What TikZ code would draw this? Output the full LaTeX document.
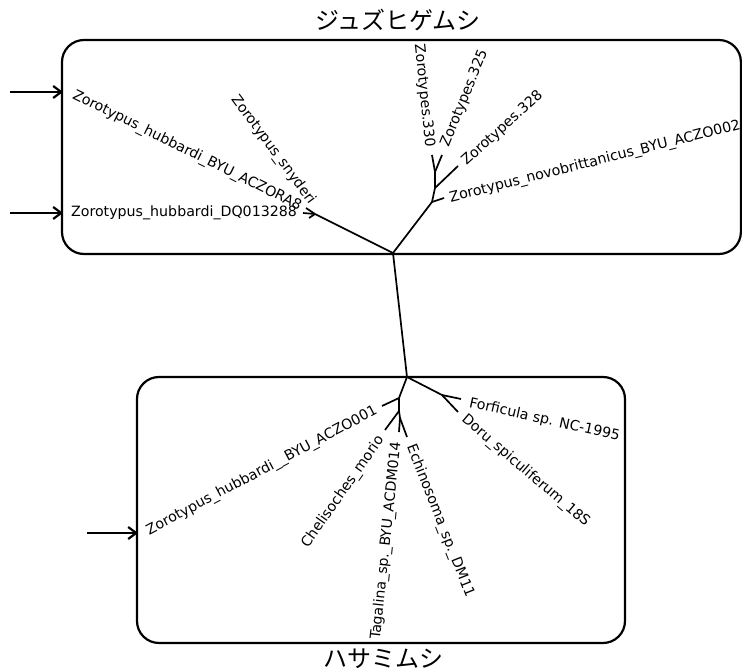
\documentclass[tikz,border=0pt]{standalone}
\usepackage{fontspec}
\setmainfont{DejaVu Sans}
\newfontfamily\cjkjp{Noto Sans CJK JP}
\usetikzlibrary{arrows.meta}
\begin{document}
\begin{tikzpicture}[x=1pt,y=-1pt,
  grp/.style={draw, line width=2.2pt, rounded corners=22pt},
  br/.style={line width=1.7pt},
  lbl/.style={inner sep=0pt, font=\fontsize{14.2}{16}\selectfont},
  ttl/.style={inner sep=0pt, font=\cjkjp\fontsize{24}{28}\selectfont},
  pointer/.style={line width=2.2pt, -{Straight Barb[length=8pt,width=12pt]}}
]
\useasboundingbox (0,0) rectangle (742,671);

% group boxes
\draw[grp] (62,40) rectangle (740.9,254);
\draw[grp] (137,377) rectangle (625,643);

% titles
\node[ttl] (t1) at (398,20) {ジュズヒゲムシ};
\node[ttl] (t2) at (383,659) {ハサミムシ};

% tree coordinates
\coordinate (R) at (393,253);
\coordinate (B) at (407,377);
\coordinate (N1) at (315,214);
\coordinate (lsny) at (306,208);
\coordinate (lacz) at (303,213);
\coordinate (ldq) at (309,218);
\coordinate (N2) at (432,202);
\coordinate (lnovo) at (444,198);
\coordinate (N3) at (435,188);
\coordinate (l328) at (458,166);
\coordinate (N4) at (435,172);
\coordinate (l330) at (432,155);
\coordinate (l325) at (442,155);
\coordinate (M1) at (442,395);
\coordinate (lforf) at (461,399);
\coordinate (ldoru) at (458,412);
\coordinate (M2) at (399,398);
\coordinate (laczo) at (382,406);
\coordinate (M3) at (399,411);
\coordinate (lchel) at (385,430);
\coordinate (M4) at (400,418);
\coordinate (ltag) at (399,432);
\coordinate (lech) at (407,437);

% branches
\draw[br] (R) -- (B);
\draw[br] (R) -- (N1);
\draw[br] (N1) -- (lsny);
\draw[br] (N1) -- (lacz);
\draw[br] (N1) -- (ldq);
\draw[br] (R) -- (N2);
\draw[br] (N2) -- (lnovo);
\draw[br] (N2) -- (N3);
\draw[br] (N3) -- (l328);
\draw[br] (N3) -- (N4);
\draw[br] (N4) -- (l330);
\draw[br] (N4) -- (l325);
\draw[br] (B) -- (M1);
\draw[br] (M1) -- (lforf);
\draw[br] (M1) -- (ldoru);
\draw[br] (B) -- (M2);
\draw[br] (M2) -- (laczo);
\draw[br] (M2) -- (M3);
\draw[br] (M3) -- (lchel);
\draw[br] (M3) -- (M4);
\draw[br] (M4) -- (ltag);
\draw[br] (M4) -- (lech);

% leaf labels
\node[lbl, rotate=-26.3] (L1) at (187,151) {Zorotypus\_hubbardi\_BYU\_ACZORA8};
\node[lbl] (L2) at (184,213) {Zorotypus\_hubbardi\_DQ013288};
\node[lbl, rotate=-53.5] (L3) at (273,150) {Zorotypus\_snyderi};
\node[lbl, rotate=-84] (L4) at (424,96) {Zorotypes.330};
\node[lbl, rotate=68] (L5) at (464.5,98.5) {Zorotypes.325};
\node[lbl, rotate=42] (L6) at (502.5,128.5) {Zorotypes.328};
\node[lbl, rotate=14.2] (L7) at (595,162) {Zorotypus\_novobrittanicus\_BYU\_ACZO002};
\node[lbl, rotate=28] (L8) at (262,471) {Zorotypus\_hubbardi\_\_BYU\_ACZO001};
\node[lbl, rotate=55] (L9) at (343,492) {Chelisoches\_morio};
\node[lbl, rotate=84] (L10) at (386.5,541) {Tagalina\_sp.\_BYU\_ACDM014};
\node[lbl, rotate=-68.5] (L11) at (440,521) {Echinosoma\_sp.\_DM11};
\node[lbl, rotate=-12.6] (L12) at (544.5,420) {Forficula sp. NC-1995};
\node[lbl, rotate=-40.5] (L13) at (525.5,471) {Doru\_spiculiferum\_18S};

% arrows
\coordinate (a1s) at (10,92);
\coordinate (a1e) at (63,92);
\coordinate (a2s) at (10,213);
\coordinate (a2e) at (63,213);
\coordinate (a3s) at (87,533);
\coordinate (a3e) at (138,533);
\draw[pointer] (a1s) -- (a1e);
\draw[pointer] (a2s) -- (a2e);
\draw[pointer] (a3s) -- (a3e);
\end{tikzpicture}
\end{document}
